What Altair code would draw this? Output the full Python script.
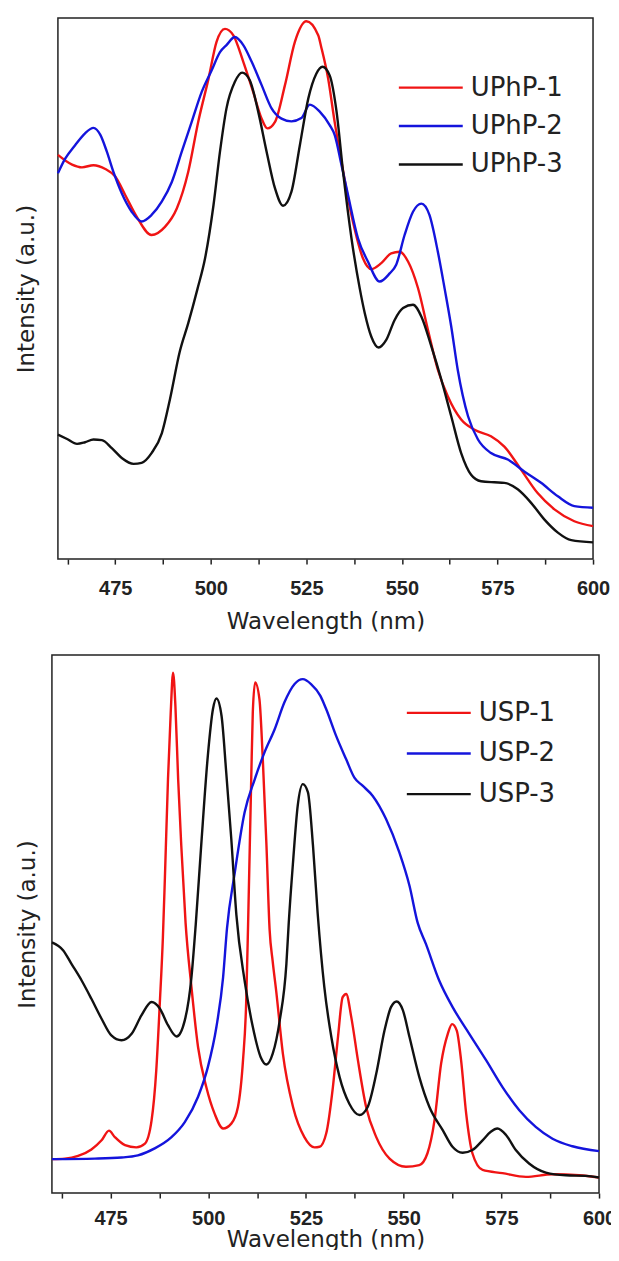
import altair as alt
import pandas as pd

# ---------------- Top panel (UPhP) ----------------
uphp1_wl = [460, 463.7, 466.3, 469.3, 472.4, 475.0, 477.6, 480.6, 484.5, 488.0,
            491.1, 494.1, 496.7, 499.4, 501.5, 503.7, 505.9, 508.5, 511.1, 513.3,
            514.8, 516.8, 519.4, 522.0, 525.0, 528.1, 528.9, 530.7, 532.4, 534.2,
            535.9, 537.6, 539.8, 542.0, 544.6, 547.2, 549.4, 551.6, 554.2, 556.8,
            559.4, 562.0, 565.5, 569.0, 573.3, 576.8, 581.2, 585.5, 589.9, 595.1, 600]
uphp1_int = [74.7, 72.9, 72.4, 72.8, 72.1, 70.7, 67.3, 63.3, 59.9, 61.4,
             64.8, 71.6, 80.8, 88.8, 95.6, 98.0, 96.8, 91.9, 86.3, 81.4,
             79.6, 80.8, 87.6, 95.6, 99.4, 96.8, 94.6, 88.8, 80.8, 73.4,
             66.7, 61.1, 55.6, 53.6, 54.7, 56.5, 56.8, 55.0, 50.1, 42.4,
             35.0, 30.1, 25.8, 23.9, 22.7, 20.8, 16.5, 12.2, 9.2, 7.0, 6.1]

uphp2_wl = [460, 461.9, 464.5, 467.1, 469.3, 471.1, 472.8, 474.5, 476.7, 479.3,
            481.9, 484.5, 487.2, 489.8, 492.4, 495.0, 497.6, 500.2, 502.4, 504.1,
            506.3, 508.5, 510.7, 513.3, 515.9, 518.5, 521.1, 523.7, 525.9, 528.5,
            531.1, 532.4, 534.2, 535.9, 538.5, 541.1, 544.2, 546.8, 548.5, 550.7,
            552.9, 555.1, 557.2, 559.4, 561.2, 562.9, 564.6, 567.3, 569.9, 573.3,
            577.7, 582.0, 586.4, 590.8, 595.1, 600]
uphp2_int = [71.3, 74.0, 76.5, 78.7, 79.7, 78.4, 75.3, 71.6, 67.6, 64.2,
             62.4, 63.6, 66.1, 69.7, 75.3, 80.8, 86.3, 90.3, 93.7, 95.0,
             96.5, 95.0, 91.9, 87.6, 83.3, 81.4, 80.9, 81.5, 84.0, 82.7,
             80.2, 78.4, 72.8, 67.3, 59.3, 55.0, 51.3, 52.8, 54.4, 59.9,
             64.2, 65.7, 63.6, 56.8, 49.9, 43.0, 35.0, 26.4, 22.1, 19.6,
             18.4, 16.2, 14.1, 11.6, 9.8, 9.5]

uphp3_wl = [460, 462.4, 465.0, 467.1, 469.3, 471.5, 474.1, 476.7, 479.8, 481.9,
            484.5, 487.2, 489.3, 491.9, 494.1, 496.5, 498.5, 500.7, 502.4, 504.1,
            506.3, 508.2, 510.2, 512.4, 514.6, 516.8, 518.9, 521.1, 523.3, 525.5,
            527.6, 529.2, 531.1, 532.9, 534.6, 536.8, 539.0, 540.3, 542.0, 543.9,
            545.9, 548.1, 550.3, 552.9, 555.1, 557.7, 560.3, 562.9, 565.5, 568.1,
            570.7, 574.2, 576.8, 580.3, 583.8, 587.3, 590.8, 594.3, 600]
uphp3_int = [23.0, 22.2, 21.3, 21.6, 22.1, 22.0, 20.5, 18.7, 17.6, 17.8,
             19.6, 23.3, 29.5, 38.4, 43.6, 49.9, 55.6, 65.4, 75.3, 83.3,
             88.2, 89.9, 88.5, 82.7, 75.3, 68.5, 65.3, 67.9, 76.5, 85.1,
             89.7, 91.0, 89.4, 82.7, 71.6, 59.3, 49.9, 45.4, 41.1, 39.1,
             40.5, 44.2, 46.4, 47.0, 44.8, 39.3, 33.2, 26.4, 19.6, 15.6,
             14.4, 14.2, 14.1, 12.9, 10.4, 7.3, 4.9, 3.5, 3.1]

# ---------------- Bottom panel (USP) ----------------
usp1_wl = [460, 463.3, 466.7, 470.1, 472.7, 474.6, 476.1, 478.7, 481.6, 483.8,
           485.5, 486.7, 487.6, 488.4, 488.9, 489.7, 490.4, 491.0, 491.6, 492.3,
           493.1, 494.2, 495.7, 497.4, 499.5, 501.6, 503.8, 505.9, 507.6, 508.9,
           509.7, 510.2, 511.0, 511.4, 512.0, 513.1, 514.0, 514.9, 515.7, 516.5,
           517.4, 519.1, 521.7, 524.6, 527.2, 528.5, 530.2, 531.9, 533.2, 534.4,
           535.3, 536.6, 538.3, 540.4, 543.0, 546.4, 550.6, 554.0, 556.1, 557.9,
           559.6, 561.3, 562.4, 563.6, 564.7, 566.0, 567.6, 570.2, 575.3, 581.3,
           588.1, 594.9, 600]
usp1_int = [6.3, 6.4, 6.9, 8.1, 9.8, 11.6, 10.4, 8.9, 8.5, 9.2,
            13.5, 22.8, 35.2, 47.6, 58.4, 76.9, 89.3, 96.7, 90.5, 76.9,
            64.6, 50.2, 38.3, 27.1, 19.7, 14.8, 12.0, 12.9, 16.0, 24.7,
            35.2, 50.0, 76.9, 89.3, 94.9, 91.8, 80.0, 64.6, 49.0, 43.0,
            37.5, 25.9, 16.0, 10.4, 8.5, 8.6, 11.1, 19.7, 29.0, 36.4,
            37.0, 32.7, 24.7, 16.0, 10.4, 6.4, 4.9, 5.2, 7.4, 13.5,
            24.1, 29.6, 31.4, 30.2, 24.7, 14.8, 7.4, 4.3, 3.7, 3.0,
            3.5, 3.3, 2.9]

usp2_wl = [460, 471.0, 477.8, 482.0, 486.3, 490.6, 494.0, 497.4, 499.9, 502.1,
           503.8, 504.8, 506.8, 509.3, 511.9, 514.4, 517.0, 519.5, 522.1, 524.2,
           526.3, 528.7, 530.2, 532.7, 535.3, 537.4, 539.5, 542.1, 545.5, 548.9,
           551.5, 553.6, 555.7, 559.1, 562.5, 566.8, 571.1, 575.3, 579.6, 583.8,
           588.1, 593.2, 600]
usp2_int = [6.3, 6.4, 6.6, 7.0, 8.3, 10.4, 13.2, 17.9, 23.4, 30.9,
            40.1, 49.2, 59.6, 70.7, 76.9, 81.9, 86.2, 91.2, 94.6, 95.5,
            94.6, 92.4, 89.9, 85.0, 80.6, 77.2, 75.7, 73.8, 69.5, 63.3,
            57.1, 50.2, 46.3, 39.5, 34.6, 29.6, 24.7, 19.7, 15.4, 12.3,
            10.1, 8.7, 7.8]

usp3_wl = [460, 462.9, 465.0, 467.6, 470.1, 472.7, 475.2, 477.8, 480.4, 482.9,
           485.5, 487.6, 489.7, 491.9, 494.0, 495.7, 496.8, 498.2, 499.9, 501.2,
           502.1, 503.4, 504.6, 505.9, 507.2, 509.3, 511.4, 513.4, 514.9, 516.5,
           518.3, 520.0, 520.6, 521.7, 522.9, 524.2, 525.5, 526.8, 528.0,
           529.7, 531.5, 533.6, 536.1, 538.7, 540.8, 543.0, 545.1, 546.8, 548.2,
           549.8, 551.5, 554.0, 556.6, 560.0, 562.5, 565.1, 567.6, 570.2, 572.3,
           574.0, 576.2, 578.7, 582.1, 586.4, 591.5, 596.6, 600]
usp3_int = [46.6, 45.1, 42.6, 39.5, 36.1, 32.4, 29.3, 28.4, 29.6, 33.0,
            35.5, 34.3, 31.2, 29.1, 32.1, 40.1, 49.9, 64.6, 81.3, 89.9,
            91.9, 88.7, 78.2, 65.8, 51.7, 39.5, 30.9, 25.3, 23.9, 25.9,
            32.1, 42.6, 50.2, 61.5, 72.0, 76.0, 74.5, 64.6, 52.0,
            38.3, 29.0, 21.6, 16.6, 14.5, 16.0, 22.2, 30.2, 34.6, 35.6,
            34.0, 29.0, 21.6, 16.0, 11.7, 8.6, 7.5, 8.0, 9.8, 11.4,
            12.0, 10.8, 8.0, 5.5, 3.8, 3.3, 3.2, 2.9]

top_names = ["UPhP-1", "UPhP-2", "UPhP-3"]
bottom_names = ["USP-1", "USP-2", "USP-3"]
line_colors = ["#f01414", "#1414dc", "#111111"]
tick_values = [462.5, 475, 487.5, 500, 512.5, 525, 537.5, 550, 562.5, 575, 587.5, 600]


def to_frame(names, wls, ints):
    rows = []
    for name, wl, it in zip(names, wls, ints):
        for w, v in zip(wl, it):
            rows.append({"series": name, "wl": w, "I": v})
    return pd.DataFrame(rows)


top_df = to_frame(top_names, [uphp1_wl, uphp2_wl, uphp3_wl], [uphp1_int, uphp2_int, uphp3_int])
bottom_df = to_frame(bottom_names, [usp1_wl, usp2_wl, usp3_wl], [usp1_int, usp2_int, usp3_int])


def panel(df, names, width, height, ytitle_pad, label_pad, title_pad, lx, ly, row_pad):
    return alt.Chart(df).mark_line(strokeWidth=2.4, interpolate="monotone").encode(
        x=alt.X("wl:Q",
                scale=alt.Scale(domain=[460, 600], nice=False, zero=False),
                axis=alt.Axis(title="Wavelength (nm)", values=tick_values,
                              labelExpr="datum.value % 25 == 0 ? format(datum.value, 'd') : ''",
                              labelFlush=False, labelOverlap=False, labelBound=False,
                              domain=False, grid=False,
                              tickSize=5, tickWidth=1.5, tickColor="#222",
                              labelFont="Liberation Sans", labelFontWeight="bold",
                              labelFontSize=20, labelColor="#222", labelPadding=label_pad,
                              titleFont="DejaVu Sans", titleFontWeight="normal",
                              titleFontSize=23, titleColor="#222", titlePadding=title_pad)),
        y=alt.Y("I:Q",
                scale=alt.Scale(domain=[0, 100], nice=False, zero=False),
                axis=alt.Axis(title="Intensity (a.u.)", labels=False, ticks=False,
                              domain=False, grid=False,
                              titleFont="DejaVu Sans", titleFontWeight="normal",
                              titleFontSize=23, titleColor="#222", titlePadding=ytitle_pad)),
        color=alt.Color("series:N",
                        scale=alt.Scale(domain=names, range=line_colors),
                        legend=alt.Legend(title=None, orient="none", direction="vertical",
                                          legendX=lx, legendY=ly,
                                          symbolType="M-4,0H4", symbolSize=256,
                                          symbolStrokeWidth=2.4, symbolOffset=0,
                                          labelFont="DejaVu Sans", labelFontSize=26,
                                          labelColor="#222", labelOffset=27,
                                          rowPadding=row_pad, padding=0)),
    ).properties(width=width, height=height)


top = panel(top_df, top_names, 536, 542, 19, 14, 13, 360.5, 56.7, 12.5)
bottom = panel(bottom_df, bottom_names, 548, 539, 12.5, 10, 1, 374.5, 45, 14.7)

chart = alt.vconcat(top, bottom, spacing=96, bounds="flush", center=True).resolve_scale(
    color="independent"
).resolve_legend(color="independent").properties(
    padding={"left": 7, "top": 6, "right": -6, "bottom": -4}
).configure_view(stroke="#222", strokeWidth=1.5)

chart.save("out.html", embed_options={"renderer": "svg", "actions": False})
